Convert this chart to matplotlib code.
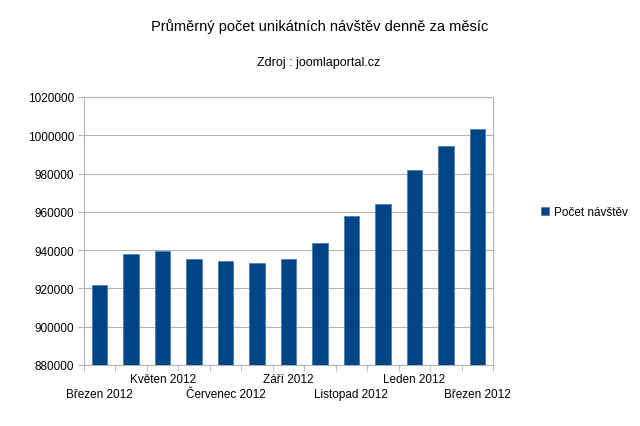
import matplotlib
matplotlib.use("Agg")
import matplotlib.pyplot as plt
import numpy as np

plt.rcParams['font.family'] = ['Liberation Sans', 'DejaVu Sans']

months = ["Březen 2012", "Duben 2012", "Květen 2012", "Červen 2012", "Červenec 2012",
          "Srpen 2012", "Září 2012", "Říjen 2012", "Listopad 2012", "Prosinec 2012",
          "Leden 2012", "Únor 2012", "Březen 2012"]
visits = [922000, 938100, 939700, 935200, 934200, 933300, 935200,
          943600, 957800, 963900, 982000, 994400, 1003100]
series_name = "Počet návštěv"
title = "Průměrný počet unikátních návštěv denně za měsíc"
subtitle = "Zdroj : joomlaportal.cz"

fig = plt.figure(figsize=(6.4, 4.27), dpi=100)
ax = fig.add_axes([84/640, 1-366/427, (493-84)/640, (366-98)/427])

x = np.arange(len(months))
ax.bar(x, visits, width=0.49, color="#004586", edgecolor="#4d7fb0", linewidth=0.6,
       label=series_name, zorder=3)

ax.set_xlim(-0.5, len(months)-0.5)
ax.set_ylim(880000, 1020000)
ax.set_yticks(np.arange(880000, 1020001, 20000))
ax.set_yticklabels([f"{v}" for v in np.arange(880000, 1020001, 20000)], fontsize=8.5)
ax.yaxis.grid(True, color="#b3b3b3", linewidth=0.8, zorder=0)

labels = [m if i % 2 == 0 else "" for i, m in enumerate(months)]
ax.set_xticks(x)
ax.set_xticklabels(labels, fontsize=8.5)
ax.tick_params(axis='x', which='major', length=0)
for i, t in enumerate(ax.xaxis.get_major_ticks()):
    t.set_pad(16.5 if i % 4 == 0 else 5.5)
ax.set_xticks(np.arange(-0.5, len(months), 1.0), minor=True)
ax.tick_params(axis='x', which='minor', length=4, color="#b3b3b3", direction='out')
ax.tick_params(axis='y', length=4, color="#b3b3b3", direction='out', pad=3)

for s in ax.spines.values():
    s.set_color("#b3b3b3")
    s.set_linewidth(0.8)

fig.text(320/640, 1-27/427, title, ha='center', va='center', fontsize=10.5)
fig.text(319/640, 1-63/427, subtitle, ha='center', va='center', fontsize=9)

fig.legend(loc='center left', bbox_to_anchor=(530/640, 1-213/427), frameon=False,
           fontsize=8.5, handlelength=0.7, handleheight=0.7, handletextpad=0.4)

fig.savefig("out.png", dpi=100)
